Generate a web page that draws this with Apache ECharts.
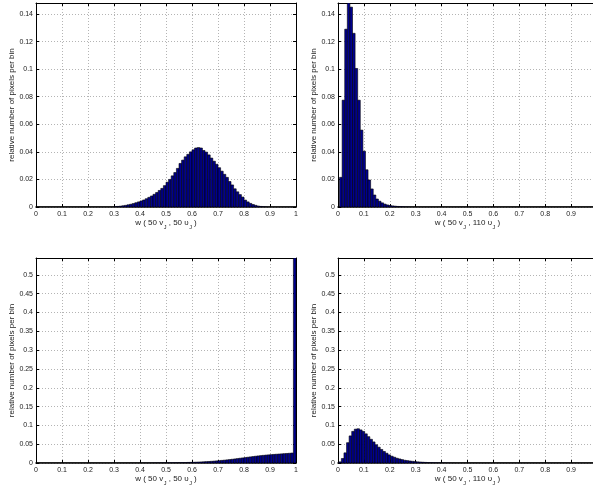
<!DOCTYPE html>
<html>
<head>
<meta charset="utf-8">
<script src="https://cdn.jsdelivr.net/npm/echarts@6/dist/echarts.min.js"></script>
<style>
html,body{margin:0;padding:0;background:#fff;}
#chart{width:593px;height:488px;}
</style>
</head>
<body>
<div id="chart"></div>
<script>
// ---- data (relative number of pixels per bin, 100 bins of width 0.01) ----
const binWidth = 0.01;
const xTicks = [0, 0.1, 0.2, 0.3, 0.4, 0.5, 0.6, 0.7, 0.8, 0.9, 1];

// top-left: w(50 vJ, 50 υJ)
const histTopLeft = [
  0,0,0,0,0,0,0,0,0,0,
  0,0,0,0,0,0,0,0,0,0,
  0,0,0,0,0,0,0,0,0,0,
  0.0003,0.0004,0.0006,0.0009,0.0012,0.0016,0.002,0.0025,0.0031,0.0037,
  0.0044,0.0051,0.006,0.007,0.008,0.0092,0.0105,0.012,0.0135,0.0155,
  0.018,0.02,0.0226,0.025,0.028,0.0316,0.034,0.0364,0.0382,0.04,
  0.0415,0.0428,0.0431,0.0428,0.041,0.0398,0.0378,0.0355,0.0332,0.031,
  0.0285,0.026,0.0237,0.0215,0.0185,0.016,0.0132,0.011,0.009,0.0072,
  0.005,0.0037,0.0026,0.0018,0.0012,0.0007,0.0004,0.0002,0.0001,0,
  0,0,0,0,0,0,0,0,0,0
];
// top-right: w(50 vJ, 110 υJ)
const histTopRight = [
  0.0215,0.0775,0.129,0.148,0.145,0.126,0.1005,0.0775,0.0558,0.0405,
  0.027,0.0196,0.0131,0.0087,0.0058,0.0042,0.003,0.0021,0.0015,0.0011,
  0.0008,0.0006,0.0004,0.0003,0.0002,0.0001,0.0001,0,0,0,
  0,0,0,0,0,0,0,0,0,0,
  0,0,0,0,0,0,0,0,0,0,
  0,0,0,0,0,0,0,0,0,0,
  0,0,0,0,0,0,0,0,0,0,
  0,0,0,0,0,0,0,0,0,0,
  0,0,0,0,0,0,0,0,0,0,
  0,0,0,0,0,0,0,0,0,0
];
// bottom-left: w(50 vJ, 50 υJ)
const histBottomLeft = [
  0,0,0,0,0,0,0,0,0,0,
  0,0,0,0,0,0,0,0,0,0,
  0,0,0,0,0,0,0,0,0,0,
  0,0,0,0,0.00005,0.00005,0.0001,0.0001,0.0001,0.0001,
  0.0001,0.00015,0.00015,0.0002,0.0002,0.0003,0.0003,0.0004,0.0004,0.0005,
  0.0006,0.0006,0.0007,0.0008,0.0009,0.001,0.0011,0.0013,0.0015,0.0017,
  0.0019,0.0022,0.0025,0.0028,0.0032,0.0036,0.004,0.0045,0.005,0.0056,
  0.0062,0.0069,0.0076,0.0083,0.0091,0.0099,0.0108,0.0117,0.0126,0.0135,
  0.0144,0.0153,0.0162,0.0171,0.018,0.0188,0.0196,0.0203,0.021,0.0216,
  0.0222,0.0228,0.0233,0.0238,0.0243,0.0248,0.0253,0.0258,0.0265,0.545
];
// bottom-right: w(50 vJ, 110 υJ)
const histBottomRight = [
  0.003,0.012,0.027,0.054,0.072,0.084,0.09,0.091,0.088,0.084,
  0.0775,0.07,0.063,0.056,0.0486,0.042,0.036,0.0306,0.026,0.0216,
  0.018,0.0153,0.0126,0.0108,0.009,0.0072,0.0063,0.0054,0.0045,0.0036,
  0.003,0.0025,0.002,0.0016,0.0013,0.001,0.0008,0.0006,0.0005,0.0004,
  0.0003,0.0002,0.0002,0.0001,0.0001,0,0,0,0,0,
  0,0,0,0,0,0,0,0,0,0,
  0,0,0,0,0,0,0,0,0,0,
  0,0,0,0,0,0,0,0,0,0,
  0,0,0,0,0,0,0,0,0,0,
  0,0,0,0,0,0,0,0,0,0
];
// first bin left edge of each histogram
const binStarts = [0, 0.006, 0, 0.003];
const yMaxTop = 0.148, yStepTop = 0.02;
const yMaxBottom = 0.545, yStepBottom = 0.05;
const yLabel = 'relative number of pixels per bin';
const xLabelA = '{b|w ( 50 v}{s|J}{b| , 50 υ}{s|J}{b| )}';
const xLabelB = '{b|w ( 50 v}{s|J}{b| , 110 υ}{s|J}{b| )}';

// ---- chart ----
const FONT = 'Liberation Sans, Arial, Helvetica, sans-serif';
const grids = [
  {left: 36, top: 3, width: 260, height: 204, outerBoundsMode: 'none'},
  {left: 338, top: 3, width: 259, height: 204, outerBoundsMode: 'none'},
  {left: 36, top: 258, width: 260, height: 205, outerBoundsMode: 'none'},
  {left: 338, top: 258, width: 259, height: 205, outerBoundsMode: 'none'}
];
const panels = [
  {data: histTopLeft, yMax: yMaxTop, yStep: yStepTop, xName: xLabelA},
  {data: histTopRight, yMax: yMaxTop, yStep: yStepTop, xName: xLabelB},
  {data: histBottomLeft, yMax: yMaxBottom, yStep: yStepBottom, xName: xLabelA},
  {data: histBottomRight, yMax: yMaxBottom, yStep: yStepBottom, xName: xLabelB}
];

const gridLine = {show: true, lineStyle: {color: '#b4b4b4', width: 1, type: [1, 2]}};
const xAxes = [], yAxes = [], series = [];
panels.forEach((p, i) => {
  xAxes.push({
    type: 'value', gridIndex: i, min: 0, max: 1, interval: 0.1, position: 'bottom',
    axisLine: {show: true, onZero: false, lineStyle: {color: '#000', width: 1.5}},
    axisTick: {show: true, inside: true, length: 3, lineStyle: {color: '#000'}},
    axisLabel: {show: true, margin: 4, fontSize: 7, color: '#222', fontFamily: FONT},
    splitLine: gridLine,
    name: p.xName, nameLocation: 'middle', nameGap: 8,
    nameTextStyle: {
      fontFamily: FONT, color: '#222',
      rich: {
        b: {fontSize: 8, lineHeight: 10, verticalAlign: 'top', fontFamily: FONT, color: '#222'},
        s: {fontSize: 5.5, lineHeight: 6, padding: [6, 0, 0, 0.5], verticalAlign: 'top', fontFamily: FONT, color: '#222'}
      }
    }
  });
  xAxes.push({
    type: 'value', gridIndex: i, min: 0, max: 1, interval: 0.1, position: 'top',
    axisLine: {show: true, onZero: false, lineStyle: {color: '#000', width: 1}},
    axisTick: {show: true, inside: true, length: 3, lineStyle: {color: '#000'}},
    axisLabel: {show: false}, splitLine: {show: false}
  });
  yAxes.push({
    type: 'value', gridIndex: i, min: 0, max: p.yMax, interval: p.yStep, position: 'left',
    axisLine: {show: true, onZero: false, lineStyle: {color: '#000', width: 1}},
    axisTick: {show: true, inside: true, length: 3, lineStyle: {color: '#000'}},
    axisLabel: {show: true, margin: 3, fontSize: 7, color: '#222', fontFamily: FONT, showMaxLabel: false},
    splitLine: gridLine,
    name: yLabel, nameLocation: 'middle', nameGap: 20, nameRotate: 90,
    nameTextStyle: {fontSize: 8, color: '#222', fontFamily: FONT}
  });
  yAxes.push({
    type: 'value', gridIndex: i, min: 0, max: p.yMax, interval: p.yStep, position: 'right',
    axisLine: {show: true, onZero: false, lineStyle: {color: '#000', width: 1}},
    axisTick: {show: true, inside: true, length: 3, lineStyle: {color: '#000'}},
    axisLabel: {show: false}, splitLine: {show: false}
  });
  const start = binStarts[i];
  series.push({
    type: 'custom',
    xAxisIndex: 2 * i, yAxisIndex: 2 * i,
    clip: true,
    encode: {x: [0, 1], y: 2},
    data: p.data.map((v, k) => [start + k * binWidth, start + (k + 1) * binWidth, v]),
    renderItem: function (params, api) {
      const a = api.coord([api.value(0), api.value(2)]);
      const b = api.coord([api.value(1), 0]);
      return {
        type: 'rect',
        shape: {x: a[0], y: a[1], width: b[0] - a[0], height: b[1] - a[1]},
        style: {fill: '#00008F', stroke: '#000', lineWidth: 0.6}
      };
    }
  });
});

const chart = echarts.init(document.getElementById('chart'), null, {renderer: 'canvas'});
chart.setOption({
  animation: false,
  backgroundColor: '#fff',
  grid: grids,
  xAxis: xAxes,
  yAxis: yAxes,
  series: series
});
</script>
</body>
</html>
